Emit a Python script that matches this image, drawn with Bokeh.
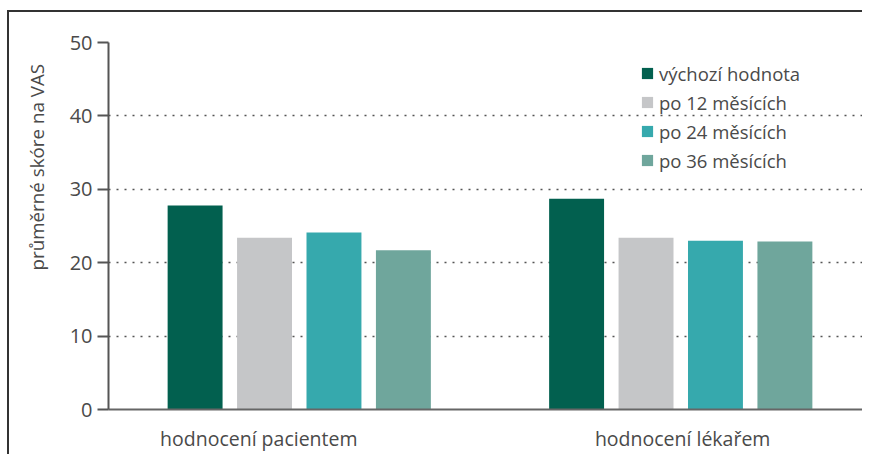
import numpy as np
from bokeh.plotting import figure
from bokeh.layouts import column
from bokeh.models import Range1d, FixedTicker, Legend, LegendItem, ColumnDataSource, Title
from bokeh.embed import file_html
from bokeh.resources import INLINE

# ---- data ----
categories = ["hodnocení pacientem", "hodnocení lékařem"]
series = ["výchozí hodnota", "po 12 měsících", "po 24 měsících", "po 36 měsících"]
baseline = [27.8, 28.7]
m12 = [23.4, 23.4]
m24 = [24.1, 23.0]
m36 = [21.7, 22.9]
y_ticks = [0, 10, 20, 30, 40, 50]
y_label = "průměrné skóre na VAS"

colors = ["#02604F", "#C5C6C8", "#36A9AD", "#6FA69C"]
values = [baseline, m12, m24, m36]

FONT = "Open Sans"
TXT = "#4a4a4a"

W, H = 862, 454
ML, MT, MB, MR = 108, 42, 45, 0
frame_w = W - ML - MR
px_per_x = 381.5
x_max = frame_w / px_per_x

p = figure(width=W, height=H, output_backend="svg", toolbar_location=None,
           x_range=Range1d(0, x_max), y_range=Range1d(0, 50),
           min_border_left=ML, min_border_right=MR, min_border_top=MT, min_border_bottom=MB)
p.outline_line_color = None
p.background_fill_color = "white"
p.border_fill_color = None

centers = np.array([0.5, 1.5])
offsets = [-0.273, -0.091, 0.091, 0.273]
bar_w = 0.144

items = []
for name, vals, col, off in zip(series, values, colors, offsets):
    src = ColumnDataSource(dict(x=centers + off, top=vals))
    r = p.vbar(x="x", top="top", bottom=0, width=bar_w, source=src,
               fill_color=col, line_color=None)
    items.append(LegendItem(label=name, renderers=[r]))

# y axis
p.yaxis.ticker = FixedTicker(ticks=y_ticks)
p.yaxis.axis_line_width = 2
p.yaxis.axis_line_color = "#555555"
p.yaxis.major_tick_line_color = "#555555"
p.yaxis.major_tick_line_width = 2
p.yaxis.major_tick_out = 11
p.yaxis.major_tick_in = 0
p.yaxis.minor_tick_line_color = None
p.yaxis.major_label_standoff = 5
p.yaxis.major_label_text_font = FONT
p.yaxis.major_label_text_font_size = "20px"
p.yaxis.major_label_text_color = TXT

# x axis
p.xaxis.ticker = FixedTicker(ticks=[0.394, 1.505])
p.xaxis.major_label_overrides = {0.394: categories[0], 1.505: categories[1]}
p.xaxis.axis_line_width = 2
p.xaxis.axis_line_color = "#666666"
p.xaxis.major_tick_line_color = None
p.xaxis.minor_tick_line_color = None
p.xaxis.major_tick_out = 0
p.xaxis.major_tick_in = 0
p.xaxis.major_label_standoff = 15
p.xaxis.major_label_text_font = FONT
p.xaxis.major_label_text_font_size = "19.5px"
p.xaxis.major_label_text_color = TXT

# grids
p.xgrid.grid_line_color = None
p.ygrid.ticker = FixedTicker(ticks=y_ticks[1:])
p.ygrid.grid_line_color = "#555555"
p.ygrid.grid_line_width = 1.5
p.ygrid.grid_line_dash = "2 6"

# y axis title, placed towards the upper part as in the original
p.add_layout(Title(text=y_label, align="left", offset=139, standoff=34,
                   text_font=FONT, text_font_size="18.8px", text_font_style="normal",
                   text_color=TXT), "left")

legend = Legend(items=items, location=(532, 236), glyph_width=14, glyph_height=14,
                label_standoff=5, spacing=3, label_height=26, padding=0, margin=0,
                border_line_color=None, background_fill_alpha=0,
                label_text_font=FONT, label_text_font_size="18.5px", label_text_color=TXT)
p.add_layout(legend)

# outer frame lines (left and top) painted as the wrapper's background behind the transparent canvas border
layout = column(p, styles={
    "background-color": "white",
    "background-image": "linear-gradient(#333333, #333333), linear-gradient(#333333, #333333)",
    "background-size": "2px 460px, 880px 2px",
    "background-position": "7px 10px, 7px 10px",
    "background-repeat": "no-repeat",
})

open("out.html", "w").write(file_html(layout, INLINE))
